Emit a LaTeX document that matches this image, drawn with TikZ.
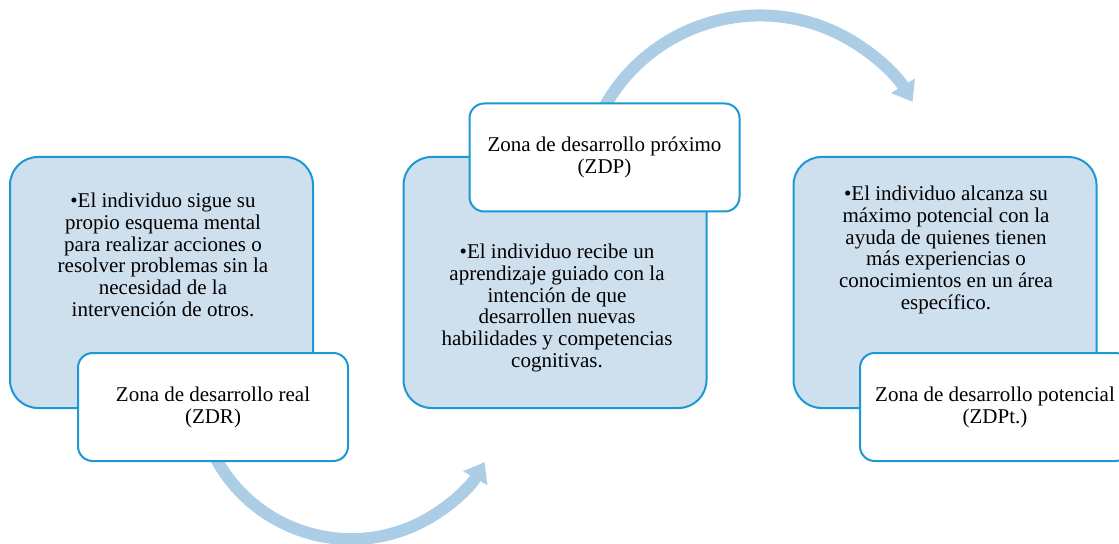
\documentclass[tikz,border=0pt]{standalone}
\usepackage{fontspec}
\setmainfont{Liberation Serif}
\usepackage{tikz}
\usetikzlibrary{arrows.meta,backgrounds}
\definecolor{borde}{RGB}{30,152,210}
\definecolor{relleno}{RGB}{206,223,238}
\definecolor{flechacol}{RGB}{171,205,230}
\tikzset{
  zona/.style={draw=borde, fill=relleno, line width=1.5pt, rounded corners=21pt,
    minimum width=227.25pt, minimum height=188.25pt},
  etiqueta/.style={draw=borde, fill=white, line width=1.5pt, rounded corners=11pt,
    minimum width=202.5pt, minimum height=81pt, align=center,
    font=\fontsize{15.75}{16.5}\selectfont},
  texto/.style={align=center, font=\fontsize{15.75}{16.25}\selectfont},
  flecha/.style={draw=flechacol, line width=9pt, -{Triangle[length=14pt,width=20pt]}}
}

\begin{document}
\begin{tikzpicture}[x=0.75pt,y=0.75pt]
      \useasboundingbox (0,0) rectangle (1119,543);
      \clip (0,0) rectangle (1119,543);
      % cajas de fondo
      \node[zona] (real) at (161.5,260.5) {};
      \node[zona] (proximo) at (555,260.5) {};
      \node[zona] (potencial) at (945,260.5) {};
      % textos
      \node[texto] (treal) at (163,288) {\textbullet El individuo sigue su\\ propio esquema mental\\ para realizar acciones o\\ resolver problemas sin la\\ necesidad de la\\ intervención de otros.};
      \node[texto] (tproximo) at (557,235) {\textbullet El individuo recibe un\\ aprendizaje guiado con la\\ intención de que\\ desarrollen nuevas\\ habilidades y competencias\\ cognitivas.};
      \node[texto] (tpotencial) at (946,293) {\textbullet El individuo alcanza su\\ máximo potencial con la\\ ayuda de quienes tienen\\ más experiencias o\\ conocimientos en un área\\ específico.};
      % etiquetas
      \node[etiqueta] (zdr) at (213,136) {Zona de desarrollo real\\ (ZDR)};
      \node[etiqueta] (zdp) at (604.5,385.5) {Zona de desarrollo próximo\\ (ZDP)};
      \node[etiqueta] (zdpt) at (995,136) {Zona de desarrollo potencial\\ (ZDPt.)};
      % flechas curvas
      \begin{scope}[on background layer]
        \draw[flecha] ([shift={(1,7)}]zdr.south) arc[start angle=207, end angle=330, radius=154];
        \draw[flecha] ([shift={(-1.7,-7.4)}]zdp.north) arc[start angle=152, end angle=31, radius=178];
      \end{scope}
    \end{tikzpicture}
\end{document}
